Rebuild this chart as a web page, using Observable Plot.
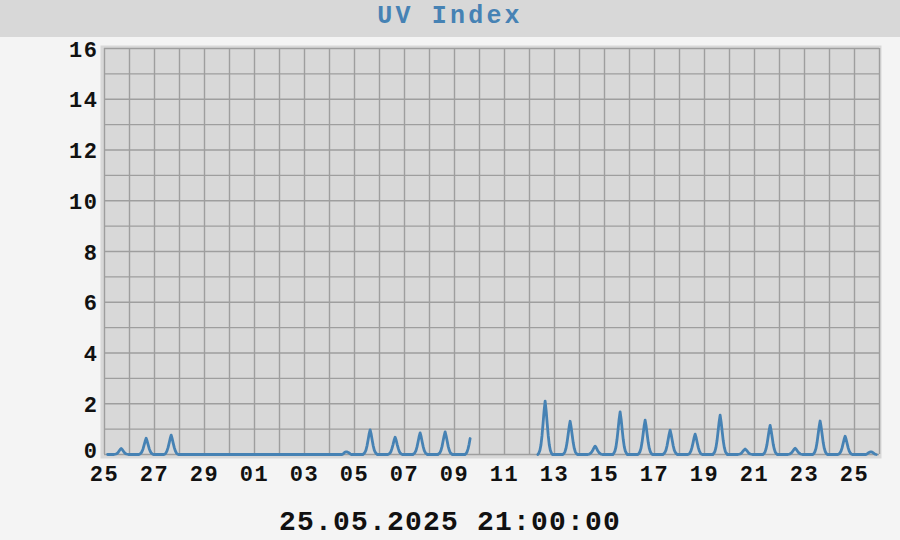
<!DOCTYPE html>
<html>
<head>
<meta charset="utf-8">
<script src="https://cdn.jsdelivr.net/npm/d3@7"></script>
<script src="https://cdn.jsdelivr.net/npm/@observablehq/plot@0.6"></script>
<style>
  html, body { margin: 0; padding: 0; background: #f4f4f4; width: 900px; height: 540px; overflow: hidden; }
  #title { position: absolute; left: 0; top: 0; width: 900px; height: 37px; background: #d8d8d8;
    text-align: center; color: #4682b4; font: bold 25px "Liberation Mono", monospace; letter-spacing: 3.2px; line-height: 33px; }
  #chart { position: absolute; left: 0; top: 37px; }
  #caption { position: absolute; left: 0; top: 505px; width: 900px; text-align: center;
    font: bold 28px "Liberation Mono", monospace; letter-spacing: 1.2px; color: #111; line-height: 36px; }
</style>
</head>
<body>
<div id="title">UV Index</div>
<div id="chart"></div>
<div id="caption">25.05.2025 21:00:00</div>
<script>
const titleText = "UV Index";
const captionText = "25.05.2025 21:00:00";
const xDomain = ["2025-04-25T00:00:00Z", "2025-05-26T00:00:00Z"];
const xTickDates = ["2025-04-25","2025-04-27","2025-04-29","2025-05-01","2025-05-03","2025-05-05","2025-05-07",
  "2025-05-09","2025-05-11","2025-05-13","2025-05-15","2025-05-17","2025-05-19","2025-05-21","2025-05-23","2025-05-25"];
const yTicks = [0, 2, 4, 6, 8, 10, 12, 14, 16];

const dayDates = ["2025-04-25","2025-04-26","2025-04-27","2025-04-28","2025-04-29","2025-04-30","2025-05-01",
  "2025-05-02","2025-05-03","2025-05-04","2025-05-05","2025-05-06","2025-05-07","2025-05-08","2025-05-09",
  "2025-05-10","2025-05-11","2025-05-12","2025-05-13","2025-05-14","2025-05-15","2025-05-16","2025-05-17",
  "2025-05-18","2025-05-19","2025-05-20","2025-05-21","2025-05-22","2025-05-23","2025-05-24","2025-05-25"];
const dayStartHour = [3, 9, 9, 12, 12, 12, 12, 12, 12, 12, 8, 8, 8, 8, 9, null, null,
  8, 8, 8, 8, 8, 8, 8, 8, 8, 8, 8, 8, 8, 11];
const dayUV = [
  [0,0,0,0,0,0,0,0.01,0.02,0.04,0.08,0.14,0.2,0.24,0.2,0.14,0.08,0.04,0.02,0.01,0],
  [0,0.02,0.05,0.12,0.22,0.37,0.52,0.64,0.52,0.37,0.22,0.12,0.05,0.02,0],
  [0,0.02,0.06,0.14,0.27,0.44,0.62,0.76,0.62,0.44,0.27,0.14,0.06,0.02,0],
  [0], [0], [0], [0], [0], [0],
  [0,0.02,0.06,0.09,0.1,0.1,0.08,0.05,0.02,0],
  [0,0.03,0.08,0.17,0.34,0.56,0.8,0.97,0.8,0.56,0.34,0.17,0.08,0.03,0],
  [0,0.02,0.05,0.12,0.24,0.39,0.56,0.68,0.56,0.39,0.24,0.12,0.05,0.02,0],
  [0,0.03,0.07,0.15,0.3,0.49,0.7,0.85,0.7,0.49,0.3,0.15,0.07,0.03,0],
  [0,0.03,0.07,0.16,0.31,0.52,0.73,0.89,0.73,0.52,0.31,0.16,0.07,0.03,0],
  [0,0,0.03,0.1,0.22,0.4,0.63],
  null,
  null,
  [0,0.06,0.17,0.38,0.74,1.22,1.72,2.1,1.72,1.22,0.74,0.38,0.17,0.06,0],
  [0,0.04,0.1,0.24,0.46,0.76,1.07,1.31,1.07,0.76,0.46,0.24,0.1,0.04,0],
  [0,0.01,0.03,0.06,0.12,0.19,0.27,0.33,0.27,0.19,0.12,0.06,0.03,0.01,0],
  [0,0.05,0.13,0.3,0.59,0.97,1.38,1.68,1.38,0.97,0.59,0.3,0.13,0.05,0],
  [0,0.04,0.11,0.24,0.47,0.78,1.11,1.35,1.11,0.78,0.47,0.24,0.11,0.04,0],
  [0,0.03,0.08,0.17,0.34,0.56,0.79,0.96,0.79,0.56,0.34,0.17,0.08,0.03,0],
  [0,0.02,0.06,0.14,0.28,0.46,0.66,0.8,0.66,0.46,0.28,0.14,0.06,0.02,0],
  [0,0.05,0.12,0.28,0.54,0.9,1.27,1.55,1.27,0.9,0.54,0.28,0.12,0.05,0],
  [0,0.01,0.02,0.04,0.08,0.13,0.18,0.22,0.18,0.13,0.08,0.04,0.02,0.01,0],
  [0,0.03,0.09,0.21,0.4,0.67,0.94,1.15,0.94,0.67,0.4,0.21,0.09,0.03,0],
  [0,0.01,0.02,0.05,0.09,0.15,0.21,0.25,0.21,0.15,0.09,0.05,0.02,0.01,0],
  [0,0.04,0.11,0.24,0.46,0.77,1.08,1.32,1.08,0.77,0.46,0.24,0.11,0.04,0],
  [0,0.02,0.06,0.13,0.25,0.42,0.59,0.72,0.59,0.42,0.25,0.13,0.06,0.02,0],
  [0,0.02,0.05,0.08,0.1,0.1,0.09,0.06,0.03,0.01,0]
];

// Build the hourly table from the arrays above
const rows = [];
dayDates.forEach((d, i) => {
  const base = new Date(d + "T00:00:00Z");
  if (dayUV[i] === null) {
    rows.push({ t: new Date(+base + 12 * 3600e3), uv: NaN });
    return;
  }
  dayUV[i].forEach((v, k) => {
    rows.push({ t: new Date(+base + (dayStartHour[i] + k) * 3600e3), uv: v });
  });
});

const xDom = xDomain.map(s => new Date(s));
const xTicks = xTickDates.map(s => new Date(s + "T00:00:00Z"));
const dayGrid = d3.utcDay.range(xDom[0], new Date(+xDom[1] + 1));
const unitGrid = d3.range(0, 17);

const chart = Plot.plot({
  width: 900,
  height: 463,
  marginLeft: 104,
  marginRight: 21,
  marginTop: 11,
  marginBottom: 46,
  style: { background: "transparent", fontFamily: "'Liberation Mono', monospace", fontSize: "22px",
    fontWeight: "bold", color: "#111", letterSpacing: "1.5px" },
  x: { type: "utc", domain: xDom },
  y: { domain: [0, 16] },
  marks: [
    Plot.frame({ fill: "#d8d8d8", stroke: null, insetLeft: -4, insetTop: -3, insetRight: -2, insetBottom: -4 }),
    Plot.gridX(dayGrid, { stroke: "#9e9e9e", strokeOpacity: 1, strokeWidth: 1.4 }),
    Plot.gridY(unitGrid, { stroke: "#9e9e9e", strokeOpacity: 1, strokeWidth: 1.4 }),
    Plot.lineY(rows, { x: "t", y: "uv", stroke: "#4682b4", strokeWidth: 2.8, curve: "linear" }),
    Plot.axisY(yTicks.filter(v => v > 0), { tickSize: 0, tickPadding: 6, label: null, fill: "#111", dy: 1 }),
    Plot.axisY(yTicks.filter(v => v === 0), { tickSize: 0, tickPadding: 6, label: null, fill: "#111", dy: -4 }),
    Plot.axisX(xTicks, { tickSize: 0, tickPadding: 11, label: null, tickFormat: d3.utcFormat("%d"), fill: "#111" })
  ]
});
document.getElementById("chart").appendChild(chart);
</script>
</body>
</html>
